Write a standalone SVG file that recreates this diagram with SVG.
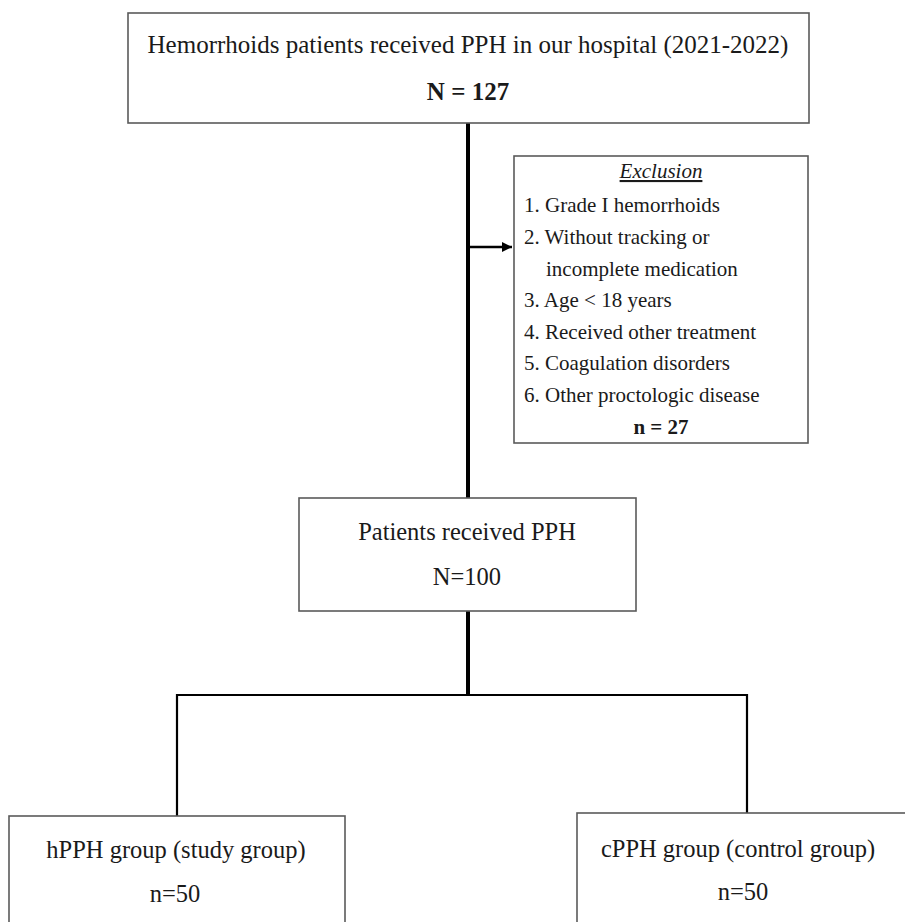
<svg xmlns="http://www.w3.org/2000/svg" width="905" height="922" viewBox="0 0 905 922">
<style>
.box{fill:#fff;stroke:#5a5a5a;stroke-width:1.6}
.t{font-family:"Liberation Serif","Times New Roman",serif;fill:#1a1a1a}
.big{font-size:25px}
.mid{font-size:24.5px}
.sm{font-size:21px}
.c{text-anchor:middle}
.thick{stroke:#000;stroke-width:4;fill:none}
.thin{stroke:#000;stroke-width:2.2;fill:none}
</style>
<defs>
<marker id="ah" viewBox="0 0 10 10" refX="10" refY="5" markerWidth="11" markerHeight="10" orient="auto" markerUnits="userSpaceOnUse">
<path d="M0,0 L10,5 L0,10 z" fill="#000"/>
</marker>
</defs>
<rect width="905" height="922" fill="#fff"/>
<g id="connectors">
<line class="thick" x1="468" y1="123" x2="468" y2="498"/>
<line x1="468" y1="247" x2="512" y2="247" stroke="#000" stroke-width="2.6" marker-end="url(#ah)"/>
<line class="thick" x1="468" y1="611" x2="468" y2="696"/>
<polyline class="thin" points="177,816 177,695 747,695 747,813"/>
</g>
<g id="n-total">
<rect class="box" x="128" y="13" width="681" height="110"/>
<text class="t big c" x="468" y="53">Hemorrhoids patients received PPH in our hospital (2021-2022)</text>
<text class="t big c" x="468" y="100" font-weight="bold">N = 127</text>
</g>
<g id="n-exclusion">
<rect class="box" x="514" y="156" width="294" height="287"/>
<text class="t sm c" x="661" y="178" font-style="italic" text-decoration="underline">Exclusion</text>
<text class="t sm" x="524" y="212">1. Grade I hemorrhoids</text>
<text class="t sm" x="524" y="244">2. Without tracking or</text>
<text class="t sm" x="546" y="276">incomplete medication</text>
<text class="t sm" x="524" y="307">3. Age &lt; 18 years</text>
<text class="t sm" x="524" y="339">4. Received other treatment</text>
<text class="t sm" x="524" y="370">5. Coagulation disorders</text>
<text class="t sm" x="524" y="402">6. Other proctologic disease</text>
<text class="t sm c" x="661" y="434" font-weight="bold">n = 27</text>
</g>
<g id="n-ppp">
<rect class="box" x="299" y="498" width="337" height="113"/>
<text class="t mid c" x="467" y="540">Patients received PPH</text>
<text class="t mid c" x="467" y="585">N=100</text>
</g>
<g id="n-hpph">
<rect class="box" x="9" y="816" width="336" height="120"/>
<text class="t mid c" x="176" y="858">hPPH group (study group)</text>
<text class="t mid c" x="175" y="902">n=50</text>
</g>
<g id="n-cpph">
<rect class="box" x="577" y="813" width="340" height="120"/>
<text class="t mid c" x="738" y="857">cPPH group (control group)</text>
<text class="t mid c" x="743" y="900">n=50</text>
</g>
</svg>
